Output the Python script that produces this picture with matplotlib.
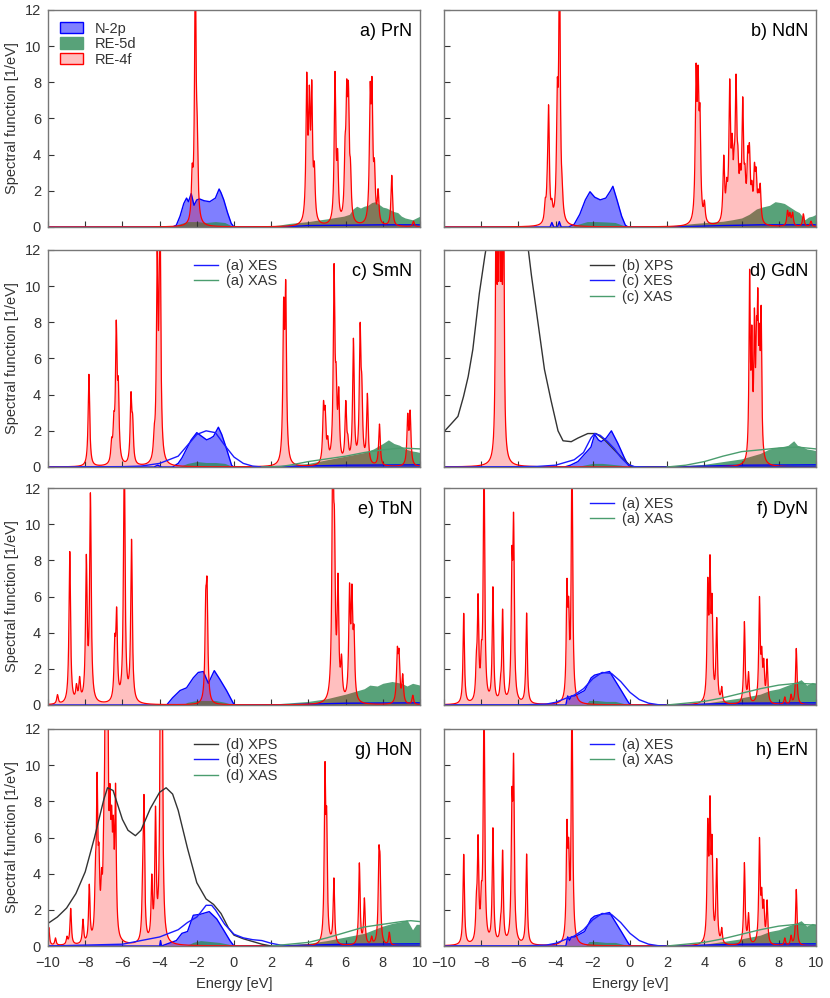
import numpy as np
import matplotlib.pyplot as plt
from matplotlib.patches import Patch

plt.rcParams['font.family'] = ['Liberation Sans', 'DejaVu Sans']

energy = np.linspace(-10, 10, 4001)

# ---------------- a) PrN
prn_f_pos = [-2.25, -2.08, -1.98, 3.91, 4.05, 4.18, 4.32, 5.43, 5.57, 5.97, 6.06, 6.15, 6.26,
             7.32, 7.42, 7.55, 7.75, 8.48, 9.65]
prn_f_hgt = [2.3, 13.5, 3.5, 7.6, 6.0, 6.8, 2.5, 8.1, 3.2, 3.0, 5.8, 6.0, 2.2,
             6.5, 6.6, 2.5, 1.7, 2.8, 0.3]
prn_p_x = [-10, -3.3, -3.1, -2.9, -2.7, -2.55, -2.45, -2.3, -2.15, -2.0, -1.85, -1.6, -1.3, -1.0,
           -0.8, -0.7, -0.55, -0.35, -0.15, 0.0, 0.1, 3.0, 4.0, 6.0, 8.0, 10]
prn_p_y = [0, 0, 0.1, 0.6, 1.3, 1.6, 1.4, 1.85, 1.2, 1.5, 1.55, 1.45, 1.4, 1.6,
           2.1, 1.9, 1.5, 0.8, 0.2, 0.0, 0, 0.02, 0.08, 0.1, 0.12, 0.12]
prn_d_x = [-10, -3.3, -3.0, -2.5, -2.0, -1.5, -1.0, -0.5, -0.2, 0.0, 0.5, 1.0, 1.5, 2.0, 2.5, 3.0,
           3.5, 4.0, 4.5, 5.0, 5.3, 5.6, 5.9, 6.2, 6.4, 6.6, 6.8, 7.0, 7.2, 7.4, 7.6, 7.8, 8.0,
           8.2, 8.4, 8.6, 8.8, 9.0, 9.2, 9.4, 9.6, 9.8, 10]
prn_d_y = [0, 0, 0.15, 0.3, 0.3, 0.25, 0.3, 0.25, 0.1, 0.02, 0, 0, 0.02, 0.06, 0.12, 0.2,
           0.25, 0.3, 0.38, 0.45, 0.5, 0.55, 0.6, 0.7, 1.0, 1.15, 1.05, 1.15, 1.2, 1.35, 1.4, 1.25,
           1.1, 1.05, 0.95, 0.85, 0.8, 0.6, 0.5, 0.45, 0.4, 0.5, 0.6]

# ---------------- b) NdN
ndn_f_pos = [-4.56, -4.45, -4.38, -4.2, -3.91, -3.79, -3.65, 3.55, 3.66, 3.76, 4.0, 5.04, 5.2,
             5.36, 5.49, 5.6, 5.7, 5.8, 5.92, 6.06, 6.18, 6.33, 6.42, 6.55, 6.69, 6.78, 6.9,
             7.0, 8.47, 8.6, 8.74, 9.32, 9.73]
ndn_f_hgt = [0.9, 0.8, 6.2, 0.7, 6.0, 14, 0.9, 7.6, 6.6, 5.0, 1.0, 3.5, 1.5,
             7.2, 3.3, 1.8, 7.0, 2.2, 1.8, 6.2, 1.8, 3.0, 3.3, 1.4, 2.5, 2.2, 1.1,
             1.9, 0.8, 0.6, 0.7, 0.7, 0.3]
ndn_p_x = [-10, -4.3, -4.2, -4.1, -3.9, -3.8, -3.7, -3.3, -3.0, -2.7, -2.4, -2.15, -1.9, -1.6,
           -1.3, -1.05, -0.92, -0.7, -0.45, -0.25, -0.1, 3.0, 5.0, 7.0, 10]
ndn_p_y = [0, 0, 0.25, 0, 0, 0.3, 0, 0, 0.15, 0.7, 1.5, 1.95, 1.65, 1.5,
           1.6, 2.0, 2.25, 1.5, 0.6, 0.1, 0, 0.02, 0.08, 0.12, 0.12]
ndn_d_x = [-10, -3.2, -2.8, -2.3, -1.8, -1.3, -0.8, -0.4, 0.0, 1.5, 2.5, 3.5, 4.5, 5.0, 5.5,
           6.0, 6.4, 6.8, 7.1, 7.5, 7.8, 8.1, 8.3, 8.6, 8.9, 9.1, 9.4, 9.6, 9.8, 10]
ndn_d_y = [0, 0, 0.15, 0.3, 0.3, 0.28, 0.25, 0.1, 0, 0, 0.1, 0.2, 0.28, 0.32, 0.4,
           0.5, 0.7, 1.0, 1.1, 1.2, 1.4, 1.35, 1.3, 1.1, 0.9, 0.8, 0.4, 0.55, 0.6, 0.7]

# ---------------- c) SmN
smn_f_pos = [-7.8, -6.58, -6.46, -6.33, -6.22, -5.54, -5.45, -4.29, -4.13, -3.98, 2.67, 2.78,
             4.81, 4.9, 5.04, 5.38, 5.49, 5.63, 6.01, 6.12, 6.42, 6.78, 6.87, 7.17, 7.82,
             9.34, 9.47]
smn_f_hgt = [5.1, 1.0, 1.8, 7.2, 3.6, 3.6, 2.0, 1.0, 10.5, 14, 7.8, 9.0,
             2.9, 2.4, 1.0, 10.4, 3.4, 3.5, 3.2, 0.9, 6.8, 7.0, 3.2, 3.8, 2.3,
             2.6, 2.8]
smn_p_x = [-10, -4.3, -4.1, -3.9, -3.3, -3.0, -2.8, -2.55, -2.3, -2.0, -1.74, -1.47, -1.25,
           -1.1, -0.84, -0.66, -0.4, -0.13, -0.03, 3.0, 6.0, 10]
smn_p_y = [0, 0, 0.1, 0, 0, 0.2, 0.5, 1.0, 1.5, 1.9, 1.7, 1.5, 1.6,
           1.7, 2.2, 1.8, 1.0, 0.1, 0, 0.03, 0.1, 0.12]
smn_d_x = [-10, -3.0, -2.5, -2.0, -1.5, -1.0, -0.5, 0.0, 2.0, 2.5, 3.0, 4.0, 5.0, 6.0, 6.5,
           7.0, 7.5, 8.0, 8.3, 8.6, 8.9, 9.2, 9.5, 9.8, 10]
smn_d_y = [0, 0, 0.2, 0.3, 0.25, 0.25, 0.2, 0, 0, 0.05, 0.1, 0.2, 0.4, 0.6, 0.7,
           0.8, 1.0, 1.3, 1.5, 1.3, 1.2, 1.0, 0.9, 0.85, 0.8]
smn_xes_x = [-10, -6, -5, -4, -3, -2.5, -2, -1.5, -1, -0.5, 0, 0.5, 1, 1.5, 10]
smn_xes_y = [0, 0.02, 0.05, 0.2, 0.6, 1.2, 1.8, 2.0, 1.9, 1.2, 0.55, 0.2, 0.05, 0, 0]
smn_xas_x = [1.5, 2.5, 3.0, 4.0, 5.0, 6.0, 7.0, 8.0, 9.0, 10.0]
smn_xas_y = [0, 0.03, 0.1, 0.3, 0.45, 0.6, 0.8, 0.95, 1.05, 1.0]

# ---------------- d) GdN
gdn_f_pos = [-7.2, -7.1, -7.0, -6.9, -6.8, 6.43, 6.55, 6.69, 6.8, 6.87, 6.96, 7.05]
gdn_f_hgt = [15, 8, 14, 8, 15, 10.0, 6.0, 7.0, 5.0, 7.0, 5.0, 7.5]
gdn_p_x = [-10, -3.52, -3.2, -2.8, -2.45, -2.1, -1.9, -1.7, -1.55, -1.28, -1.0, -0.65, -0.3,
           -0.12, 0.0, 3.0, 6.0, 10]
gdn_p_y = [0, 0, 0.1, 0.3, 0.7, 1.1, 1.8, 1.5, 1.4, 1.6, 2.0, 1.3, 0.5,
           0.15, 0, 0.02, 0.1, 0.12]
gdn_d_x = [-10, -3.0, -2.5, -2.0, -1.5, -1.0, -0.5, 0.0, 2.0, 3.0, 4.0, 5.0, 6.0, 6.5, 7.0,
           7.5, 8.0, 8.3, 8.5, 8.8, 9.0, 9.3, 9.5, 9.8, 10]
gdn_d_y = [0, 0, 0.1, 0.2, 0.2, 0.15, 0.1, 0, 0.02, 0.08, 0.15, 0.3, 0.45, 0.6, 0.75,
           1.0, 1.1, 1.15, 1.2, 1.45, 1.2, 1.1, 1.0, 0.95, 0.9]
gdn_xps_x = [-10, -9.6, -9.25, -8.95, -8.7, -8.45, -8.1, -7.8, -7.7, -7.2, -6.6, -6.0, -5.5,
             -5.3, -4.95, -4.6, -4.25, -3.87, -3.6, -3.16, -2.8, -2.27, -1.82, -1.37, -0.83,
             -0.3, 0.06, 0.3, 10]
gdn_xps_y = [1.95, 2.4, 2.8, 3.9, 5.0, 6.5, 9.6, 11.7, 12.3, 16, 18, 16, 12.3,
             10.6, 8.0, 5.4, 3.7, 2.0, 1.45, 1.4, 1.6, 1.85, 1.85, 1.5, 0.93,
             0.37, 0.04, 0, 0]
gdn_xes_x = [-10, -7.5, -5, -4, -3, -2.5, -2.1, -1.9, -1.6, -1.2, -0.83, -0.47, -0.12, 0.24, 1, 10]
gdn_xes_y = [0, 0, 0.03, 0.1, 0.4, 0.8, 1.6, 1.85, 1.75, 1.4, 1.0, 0.5, 0.15, 0.02, 0, 0]
gdn_xas_x = [2.0, 3.0, 4.0, 5.0, 6.0, 6.5, 7.0, 8.0, 9.0, 10.0]
gdn_xas_y = [0, 0.1, 0.3, 0.6, 0.85, 0.9, 0.95, 1.05, 1.1, 1.0]

# ---------------- e) TbN
tbn_f_pos = [-9.49, -8.83, -8.47, -8.3, -7.94, -7.72, -6.41, -6.31, -5.9, -5.51, -1.52, -1.45,
             5.31, 5.4, 5.59, 5.78, 6.21, 6.34, 6.45, 8.78, 8.87, 9.07, 9.61]
tbn_f_hgt = [0.5, 8.4, 0.8, 1.2, 7.7, 11.3, 2.8, 4.6, 14, 8.9, 4.5, 5.5,
             14, 7.0, 6.2, 2.0, 5.8, 5.3, 3.2, 2.6, 2.4, 1.5, 0.5]
tbn_p_x = [-10, -3.62, -3.3, -2.9, -2.55, -2.19, -1.92, -1.65, -1.38, -1.06, -0.75, -0.4,
           -0.04, 0.05, 3.0, 6.0, 10]
tbn_p_y = [0, 0, 0.4, 0.8, 0.95, 1.5, 1.8, 1.85, 1.2, 1.9, 1.4, 0.8,
           0.1, 0, 0.02, 0.1, 0.12]
tbn_d_x = [-10, -2.8, -2.5, -2.0, -1.5, -1.0, -0.5, 0.0, 2.0, 3.0, 4.0, 5.0, 6.0, 6.5, 7.0,
           7.3, 7.7, 8.0, 8.5, 9.0, 9.3, 9.6, 10]
tbn_d_y = [0, 0, 0.15, 0.25, 0.25, 0.25, 0.15, 0, 0.05, 0.12, 0.2, 0.35, 0.6, 0.75, 0.9,
           1.1, 1.05, 1.2, 1.3, 1.2, 1.05, 1.2, 1.1]

# ---------------- f) DyN  /  h) ErN
dyn_f_pos = [-8.94, -8.26, -8.17, -7.99, -7.85, -7.37, -6.96, -6.85, -6.35, -6.26, -5.56,
             -3.39, -3.3, -3.12, 4.18, 4.3, 4.41, 4.66, 4.93, 6.15, 6.37, 6.96, 7.08, 7.19,
             7.37, 8.32, 8.66, 8.94]
dyn_f_hgt = [5.0, 1.6, 5.4, 1.8, 14, 6.3, 0.7, 5.0, 6.8, 9.2, 5.0,
             5.8, 4.0, 14, 6.0, 6.8, 4.8, 4.5, 0.8, 4.5, 1.6, 5.6, 2.2, 1.9,
             2.3, 0.4, 0.5, 3.1]
dyn_p_x = [-10, -3.45, -3.35, -3.25, -3.15, -2.98, -2.44, -2.09, -1.91, -1.55, -1.1, -0.83,
           -0.47, -0.12, 0.02, 3.0, 6.0, 10]
dyn_p_y = [0, 0, 0.5, 0.3, 0.5, 0.5, 0.8, 1.5, 1.65, 1.75, 1.85, 1.4,
           0.8, 0.2, 0, 0.02, 0.1, 0.12]
dyn_d_x = [-10, -2.4, -2.2, -1.8, -1.3, -0.8, -0.4, 0.0, 2.0, 3.0, 4.0, 5.0, 6.0, 7.0, 7.5,
           8.0, 8.5, 9.0, 9.2, 9.5, 9.8, 10]
dyn_d_y = [0, 0, 0.25, 0.25, 0.2, 0.2, 0.1, 0, 0, 0.05, 0.1, 0.25, 0.4, 0.6, 0.8,
           0.9, 1.1, 1.3, 1.4, 1.1, 1.25, 1.2]
dyn_xes_x = [-10, -6, -4.5, -4, -3, -2.5, -2, -1.5, -1, -0.5, 0, 0.5, 1, 1.5, 2, 10]
dyn_xes_y = [0, 0, 0.05, 0.15, 0.55, 0.9, 1.45, 1.8, 1.75, 1.3, 0.7, 0.3, 0.1, 0.02, 0, 0]
dyn_xas_x = [2.0, 3.0, 4.0, 5.0, 6.0, 7.0, 8.0, 9.0, 10.0]
dyn_xas_y = [0, 0.1, 0.2, 0.4, 0.65, 0.9, 1.1, 1.2, 1.15]

# ---------------- g) HoN
hon_f_pos = [-9.96, -9.6, -8.98, -8.78, -8.12, -7.78, -7.45, -7.36, -7.26, -7.12, -7.0, -6.91,
             -6.8, -6.67, -6.58, -6.49, -6.37, -4.91, -4.84, -4.42, -4.22, -3.95, -3.87, 4.89,
             4.98, 5.37, 6.74, 7.01, 7.4, 7.79, 7.85, 8.35]
hon_f_hgt = [1.0, 0.4, 0.4, 2.0, 1.3, 3.1, 2.8, 8.0, 3.4, 2.2, 3.5, 14,
             14, 5.5, 4.5, 4.5, 7.8, 2.4, 7.5, 3.3, 6.9, 14, 14, 9.0,
             5.8, 3.6, 4.5, 2.5, 0.4, 4.2, 3.5, 0.7]
hon_p_x = [-10, -4.0, -3.95, -3.9, -3.1, -2.8, -2.5, -2.19, -1.83, -1.33, -0.93, -0.57,
           -0.22, 0.0, 3.0, 6.0, 10]
hon_p_y = [0, 0, 0.3, 0, 0.3, 0.7, 0.8, 1.7, 1.75, 1.9, 1.5, 0.9,
           0.3, 0, 0.02, 0.1, 0.12]
hon_d_x = [-10, -2.6, -2.2, -1.8, -1.3, -0.8, -0.3, 0.0, 2.0, 4.0, 5.0, 6.0, 7.0, 7.5, 8.0,
           8.5, 9.0, 9.3, 9.6, 9.8, 10]
hon_d_y = [0, 0, 0.2, 0.3, 0.25, 0.2, 0.1, 0, 0.02, 0.15, 0.3, 0.5, 0.7, 0.9, 1.1,
           1.25, 1.35, 1.45, 0.9, 1.2, 1.2]
hon_xps_x = [-10, -9.5, -9, -8.5, -8, -7.5, -7, -6.8, -6.5, -6, -5.7, -5.3, -5, -4.5, -4,
             -3.65, -3.3, -3, -2.5, -2, -1.5, -1.1, -0.7, -0.3, 0, 0.5, 1, 1.5, 2, 10]
hon_xps_y = [1.25, 1.6, 2.1, 2.9, 4.1, 6.0, 8.1, 8.75, 8.6, 7.0, 6.4, 6.1, 6.4, 7.6, 8.5,
             8.75, 8.4, 7.5, 5.4, 3.5, 2.6, 2.3, 1.8, 1.0, 0.6, 0.4, 0.25, 0.1, 0, 0]
hon_xes_x = [-10, -6, -5, -4, -3, -2.5, -2, -1.8, -1.5, -1.2, -1, -0.5, 0, 0.5, 1, 1.5, 2,
             2.5, 3, 10]
hon_xes_y = [0, 0.1, 0.3, 0.5, 0.9, 1.3, 1.6, 1.85, 2.25, 2.25, 2.0, 1.2, 0.65, 0.45, 0.35,
             0.3, 0.15, 0.05, 0, 0]
hon_xas_x = [2.0, 3.0, 4.0, 5.0, 6.0, 7.0, 8.0, 9.0, 9.5, 10.0]
hon_xas_y = [0, 0.1, 0.2, 0.45, 0.75, 1.05, 1.2, 1.35, 1.4, 1.35]


def spectrum_4f(pos, hgt, gamma):
    out = np.zeros_like(energy)
    for c, h in zip(pos, hgt):
        out += h * gamma ** 2 / ((energy - c) ** 2 + gamma ** 2)
    return out


def draw_panel(ax, p_x, p_y, d_x, d_y, f_pos, f_hgt, gamma, label):
    ax.fill_between(p_x, p_y, color='#0000ff', alpha=0.5, lw=0)
    ax.plot(p_x, p_y, color='#0000ff', lw=1.0)
    ax.fill_between(d_x, d_y, color='#2e8b57', alpha=0.8, lw=0)
    f = spectrum_4f(f_pos, f_hgt, gamma)
    ax.fill_between(energy, f, color='#ff0000', alpha=0.25, lw=0)
    ax.plot(energy, f, color='#ff0000', lw=0.9)
    ax.text(0.98, 0.9, label, transform=ax.transAxes, ha='right', va='center',
            fontsize=13, color='black')


fig = plt.figure(figsize=(8.3, 9.98), dpi=100)

lefts = [48 / 830, 444 / 830]
width = 372 / 830
bottoms = [1 - 227 / 998, 1 - 467 / 998, 1 - 705 / 998, 1 - 946 / 998]
height = 217 / 998

axes = []
for r in range(4):
    row = []
    for c in range(2):
        ax = fig.add_axes([lefts[c], bottoms[r], width, height])
        ax.set_xlim(-10, 10)
        ax.set_ylim(0, 12)
        ax.set_xticks(np.arange(-10, 11, 2))
        ax.set_yticks(np.arange(0, 13, 2))
        ax.tick_params(direction='in', length=4, color='#333333', labelcolor='#333333',
                       labelsize=10.5, top=False, right=False)
        ax.tick_params(axis='x', pad=7)
        ax.tick_params(axis='y', pad=5)
        for s in ax.spines.values():
            s.set_color('#777777')
            s.set_linewidth(1.0)
        if r < 3:
            ax.tick_params(labelbottom=False)
        else:
            ax.set_xlabel('Energy [eV]', fontsize=10.5, color='#333333', labelpad=5)
        if c == 1:
            ax.tick_params(labelleft=False)
        else:
            ax.set_ylabel('Spectral function [1/eV]', fontsize=10.5, color='#333333')
        row.append(ax)
    axes.append(row)

draw_panel(axes[0][0], prn_p_x, prn_p_y, prn_d_x, prn_d_y, prn_f_pos, prn_f_hgt, 0.05, 'a) PrN')
draw_panel(axes[0][1], ndn_p_x, ndn_p_y, ndn_d_x, ndn_d_y, ndn_f_pos, ndn_f_hgt, 0.05, 'b) NdN')
draw_panel(axes[1][0], smn_p_x, smn_p_y, smn_d_x, smn_d_y, smn_f_pos, smn_f_hgt, 0.05, 'c) SmN')
draw_panel(axes[1][1], gdn_p_x, gdn_p_y, gdn_d_x, gdn_d_y, gdn_f_pos, gdn_f_hgt, 0.04, 'd) GdN')
draw_panel(axes[2][0], tbn_p_x, tbn_p_y, tbn_d_x, tbn_d_y, tbn_f_pos, tbn_f_hgt, 0.05, 'e) TbN')
draw_panel(axes[2][1], dyn_p_x, dyn_p_y, dyn_d_x, dyn_d_y, dyn_f_pos, dyn_f_hgt, 0.045, 'f) DyN')
draw_panel(axes[3][0], hon_p_x, hon_p_y, hon_d_x, hon_d_y, hon_f_pos, hon_f_hgt, 0.045, 'g) HoN')
draw_panel(axes[3][1], dyn_p_x, dyn_p_y, dyn_d_x, dyn_d_y, dyn_f_pos, dyn_f_hgt, 0.045, 'h) ErN')

xes_col = '#1a1aff'
xas_col = '#4a9d6e'
xps_col = '#333333'

# experimental curves
ax = axes[1][0]
ax.plot(smn_xes_x, smn_xes_y, color=xes_col, lw=1.0, label='(a) XES')
ax.plot(smn_xas_x, smn_xas_y, color=xas_col, lw=1.0, label='(a) XAS')

ax = axes[1][1]
ax.plot(gdn_xps_x, gdn_xps_y, color=xps_col, lw=1.0, label='(b) XPS')
ax.plot(gdn_xes_x, gdn_xes_y, color=xes_col, lw=1.0, label='(c) XES')
ax.plot(gdn_xas_x, gdn_xas_y, color=xas_col, lw=1.0, label='(c) XAS')

for ax in (axes[2][1], axes[3][1]):
    ax.plot(dyn_xes_x, dyn_xes_y, color=xes_col, lw=1.0, label='(a) XES')
    ax.plot(dyn_xas_x, dyn_xas_y, color=xas_col, lw=1.0, label='(a) XAS')

ax = axes[3][0]
ax.plot(hon_xps_x, hon_xps_y, color=xps_col, lw=1.0, label='(d) XPS')
ax.plot(hon_xes_x, hon_xes_y, color=xes_col, lw=1.0, label='(d) XES')
ax.plot(hon_xas_x, hon_xas_y, color=xas_col, lw=1.0, label='(d) XAS')

for ax in (axes[1][0], axes[1][1], axes[2][1], axes[3][0], axes[3][1]):
    leg = ax.legend(loc='upper left', bbox_to_anchor=(0.37, 1.0), frameon=False,
                    fontsize=10.5, handlelength=1.6, handletextpad=0.6,
                    labelspacing=0.1, borderaxespad=0.2)
    for t in leg.get_texts():
        t.set_color('#333333')

# legend for calculated curves
handles = [Patch(facecolor='#8080ff', edgecolor='#0000ff', lw=1.0, label='N-2p'),
           Patch(facecolor='#58a279', edgecolor='#58a279', lw=1.0, label='RE-5d'),
           Patch(facecolor='#ffbfbf', edgecolor='#ff0000', lw=1.0, label='RE-4f')]
leg = axes[0][0].legend(handles=handles, loc='upper left', frameon=False, fontsize=10.5,
                        handlelength=1.6, handleheight=0.8, handletextpad=0.8,
                        labelspacing=0.1, borderaxespad=0.4)
for t in leg.get_texts():
    t.set_color('#333333')

plt.savefig('out.png', dpi=100)
